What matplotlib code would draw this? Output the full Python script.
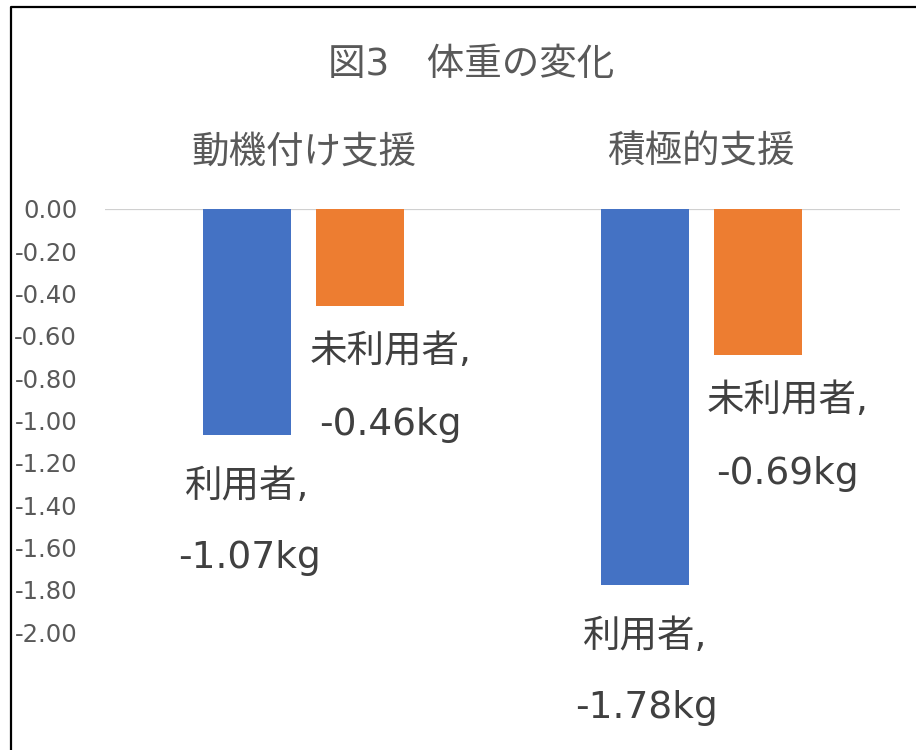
import matplotlib
matplotlib.use("Agg")
import matplotlib.pyplot as plt
from matplotlib.lines import Line2D
import numpy as np

plt.rcParams['font.family'] = ['DejaVu Sans', 'Noto Sans CJK JP']

title = "図3　体重の変化"
categories = ["動機付け支援", "積極的支援"]
series_names = ["利用者", "未利用者"]
users = [-1.07, -1.78]
non_users = [-0.46, -0.69]
yticks = [0.0, -0.2, -0.4, -0.6, -0.8, -1.0, -1.2, -1.4, -1.6, -1.8, -2.0]

W, H = 916, 750
fig = plt.figure(figsize=(W / 100, H / 100), dpi=100)
ax = fig.add_axes([105 / W, 1 - 632 / H, (900 - 105) / W, (632 - 209) / H])

x = np.arange(len(categories))
off = 0.142
bw = 0.221
blue = "#4472C4"
orange = "#ED7D31"
ax.bar(x - off, users, bw, color=blue, zorder=2)
ax.bar(x + off, non_users, bw, color=orange, zorder=2)

ax.axhline(0, color="#D0D0D0", lw=1.6, zorder=1)
ax.set_xlim(-0.5, 1.5)
ax.set_ylim(-2.0, 0.0)
ax.set_yticks(yticks)
ax.set_yticklabels([f"{v:.2f}" for v in yticks], fontsize=17.5, color="#595959")
ax.tick_params(axis='y', length=0, pad=20)
ax.xaxis.tick_top()
ax.set_xticks(x)
ax.set_xticklabels(categories, fontsize=27, color="#595959")
ax.tick_params(axis='x', length=0, pad=28)
for s in ax.spines.values():
    s.set_visible(False)

px = 0.72  # points per pixel
lc = "#404040"
for xi, v in zip(x, users):
    ax.annotate(f"{series_names[0]},", (xi - off, v), xytext=(0, -52 * px), textcoords="offset points",
                ha="center", va="center", fontsize=27, color=lc, annotation_clip=False)
    ax.annotate(f"{v:.2f}kg", (xi - off, v), xytext=(2 * px, -123 * px), textcoords="offset points",
                ha="center", va="center", fontsize=27, color=lc, annotation_clip=False)
for xi, v in zip(x, non_users):
    ax.annotate(f"{series_names[1]},", (xi + off, v), xytext=(30 * px, -46 * px), textcoords="offset points",
                ha="center", va="center", fontsize=27, color=lc, annotation_clip=False)
    ax.annotate(f"{v:.2f}kg", (xi + off, v), xytext=(30 * px, -119 * px), textcoords="offset points",
                ha="center", va="center", fontsize=27, color=lc, annotation_clip=False)

fig.text(471 / W, 1 - 65 / H, title, ha="center", va="center", fontsize=27, color="#595959")

fig.add_artist(Line2D([11 / W, 11 / W, 1.0], [0.0, 1 - 7 / H, 1 - 7 / H], transform=fig.transFigure,
                      color="black", lw=1.6))

fig.savefig("out.png", dpi=100)
